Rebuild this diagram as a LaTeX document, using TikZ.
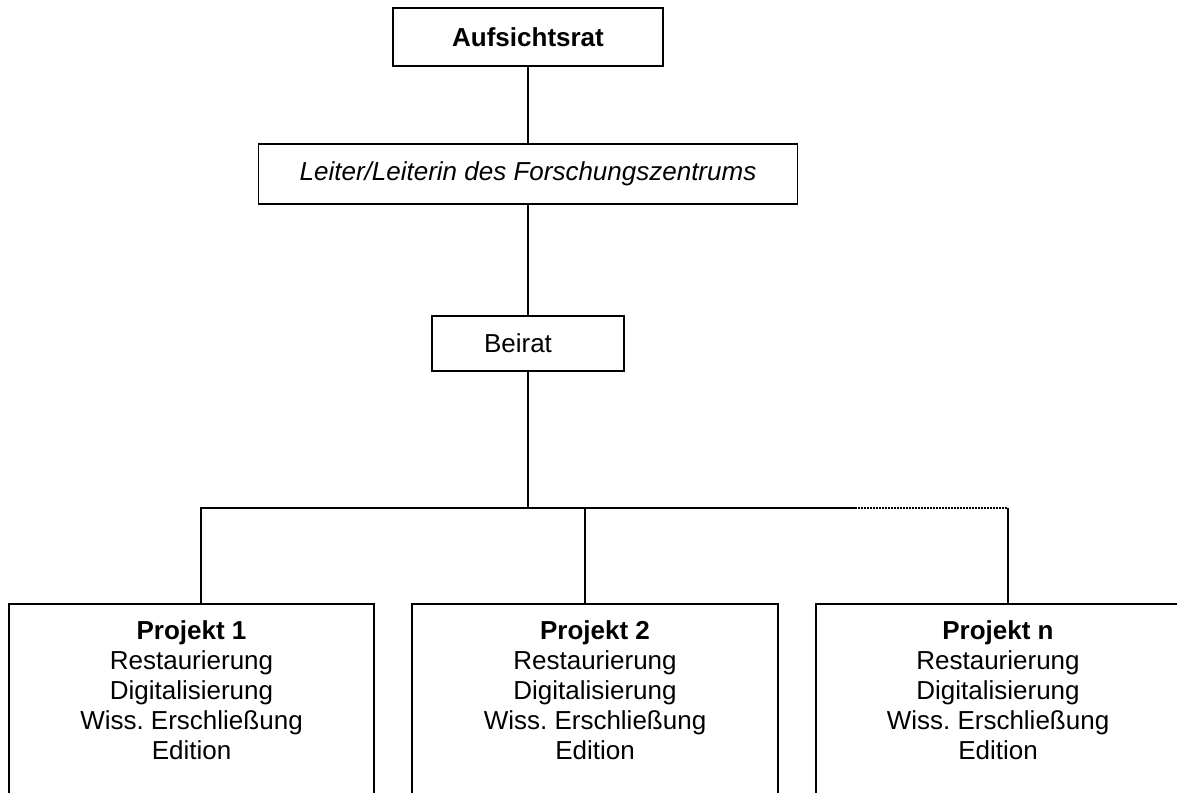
\documentclass[tikz,border=0pt]{standalone}
\usepackage{fontspec}
\setmainfont{Liberation Sans}
\begin{document}
\begin{tikzpicture}[x=1pt,y=-1pt,
  box/.style={draw=black,line width=1.6pt,fill=white,inner sep=0pt,align=center,
    font=\fontsize{26}{30}\selectfont},
  projtext/.style={inner sep=0pt,align=center,anchor=north,
    font=\fontsize{26}{30}\selectfont},
  link/.style={line width=1.6pt,draw=black},
  dotlink/.style={line width=1.6pt,draw=black,dash pattern=on 1.5pt off 1.5pt}]
\useasboundingbox (0,0) rectangle (1177,792);
\clip (0,0) rectangle (1177,792);
\node[box,minimum width=270pt,minimum height=58pt] (auf) at (528,37) {\bfseries Aufsichtsrat};
\node[box,minimum width=539pt,minimum height=60pt] (lei) at (528,174) {\itshape Leiter/Leiterin des Forschungszentrums};
\node[box,minimum width=192pt,minimum height=55pt] (bei) at (528,343.5) {Beirat\hspace{20pt}};
\node[box,minimum width=365pt,minimum height=196pt] (p1) at (191.5,702) {};
\node[box,minimum width=366pt,minimum height=196pt] (p2) at (595,702) {};
\node[box,minimum width=364pt,minimum height=196pt] (p3) at (998,702) {};
\node[projtext] (p1t) at (191.5,620) {\textbf{Projekt 1}\\Restaurierung\\Digitalisierung\\Wiss.\ Erschließung\\Edition};
\node[projtext] (p2t) at (595,620) {\textbf{Projekt 2}\\Restaurierung\\Digitalisierung\\Wiss.\ Erschließung\\Edition};
\node[projtext] (p3t) at (998,620) {\textbf{Projekt n}\\Restaurierung\\Digitalisierung\\Wiss.\ Erschließung\\Edition};
\coordinate (j) at (528,508);
\coordinate (hl) at (201,508);
\coordinate (hm) at (585,508);
\coordinate (hd) at (855,508);
\coordinate (hr) at (1008,508);
\draw[link] (auf.south) -- (lei.north);
\draw[link] (lei.south) -- (bei.north);
\draw[link] (bei.south) -- (j);
\draw[link] (hl |- p1.north) -- (hl) -- (hd);
\draw[dotlink] (hd) -- (hr);
\draw[link] (hr) -- (hr |- p3.north);
\draw[link] (hm) -- (hm |- p2.north);
\end{tikzpicture}
\end{document}
